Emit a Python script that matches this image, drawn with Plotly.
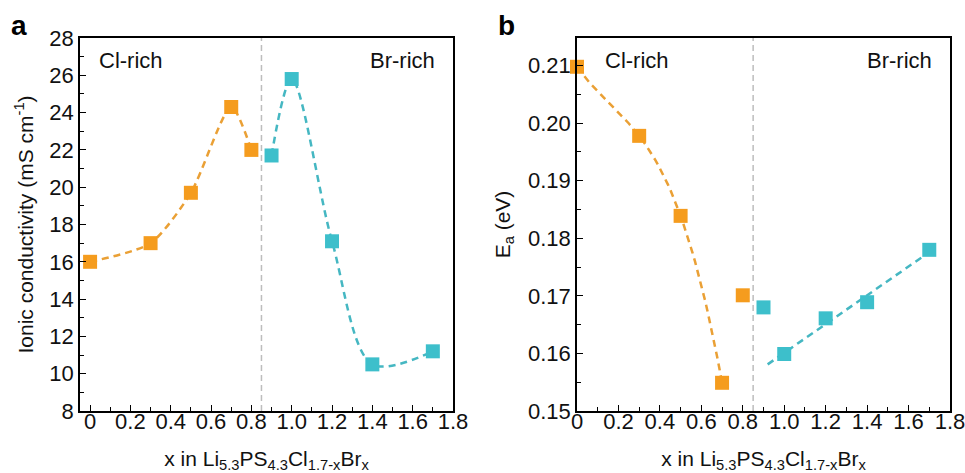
import numpy as np
import plotly.graph_objects as go

# ---------------- data ----------------
x_cl = [0.0, 0.3, 0.5, 0.7, 0.8]
sigma_cl = [16.0, 17.0, 19.7, 24.3, 22.0]
x_br = [0.9, 1.0, 1.2, 1.4, 1.7]
sigma_br = [21.7, 25.8, 17.1, 10.5, 11.2]

ea_cl = [0.2098, 0.1978, 0.1839, 0.1549, 0.1701]
ea_br = [0.1680, 0.1599, 0.1661, 0.1689, 0.1780]

# which points the dashed guide curves in panel b use
ea_cl_curve_n = 4            # first 4 Cl-rich points (smooth cubic through them)
ea_br_fit_from = 1           # Br-rich points from index 1 onward (linear fit)
ea_br_fit_range = [0.92, 1.7]

boundary_x = 0.85

x_ticks = [0, 0.2, 0.4, 0.6, 0.8, 1.0, 1.2, 1.4, 1.6, 1.8]
x_ticktext = ["0", "0.2", "0.4", "0.6", "0.8", "1.0", "1.2", "1.4", "1.6", "1.8"]
ya_ticks = [8, 10, 12, 14, 16, 18, 20, 22, 24, 26, 28]
yb_ticks = [0.15, 0.16, 0.17, 0.18, 0.19, 0.20, 0.21]
yb_ticktext = ["0.15", "0.16", "0.17", "0.18", "0.19", "0.20", "0.21"]

ORANGE = "#F59C1E"
ORANGE_LINE = "#EAA035"
CYAN = "#3DBFCB"
CYAN_LINE = "#45B7C2"
FONT = "Liberation Sans, Arial, sans-serif"
FS = 22
FT = 21

W, H = 965, 473

def px(v, total):
    return v / total

fig = go.Figure()

dash = "7px,5px"
msize = 14

# ---- panel a ----
fig.add_trace(go.Scatter(x=x_cl, y=sigma_cl, mode="lines", line=dict(color=ORANGE_LINE, width=2.5, dash=dash, shape="spline", smoothing=0.7),
                         xaxis="x", yaxis="y", showlegend=False, hoverinfo="skip"))
fig.add_trace(go.Scatter(x=x_br, y=sigma_br, mode="lines", line=dict(color=CYAN_LINE, width=2.5, dash=dash, shape="spline", smoothing=0.9),
                         xaxis="x", yaxis="y", showlegend=False, hoverinfo="skip"))
fig.add_trace(go.Scatter(x=x_cl, y=sigma_cl, mode="markers", marker=dict(symbol="square", size=msize, color=ORANGE),
                         xaxis="x", yaxis="y", showlegend=False, cliponaxis=False))
fig.add_trace(go.Scatter(x=x_br, y=sigma_br, mode="markers", marker=dict(symbol="square", size=msize, color=CYAN),
                         xaxis="x", yaxis="y", showlegend=False, cliponaxis=False))

# ---- panel b ----
cx = np.array(x_cl[:ea_cl_curve_n])
coef = np.polyfit(cx, ea_cl[:ea_cl_curve_n], 3)
cxx = np.linspace(cx.min(), cx.max(), 60)
fig.add_trace(go.Scatter(x=cxx, y=np.polyval(coef, cxx), mode="lines",
                         line=dict(color=ORANGE_LINE, width=2.5, dash=dash),
                         xaxis="x2", yaxis="y2", showlegend=False, hoverinfo="skip"))
slope, icpt = np.polyfit(x_br[ea_br_fit_from:], ea_br[ea_br_fit_from:], 1)
fit_x = np.array(ea_br_fit_range)
fig.add_trace(go.Scatter(x=fit_x, y=slope * fit_x + icpt, mode="lines",
                         line=dict(color=CYAN_LINE, width=2.5, dash=dash),
                         xaxis="x2", yaxis="y2", showlegend=False, hoverinfo="skip"))
fig.add_trace(go.Scatter(x=x_cl, y=ea_cl, mode="markers", marker=dict(symbol="square", size=msize, color=ORANGE),
                         xaxis="x2", yaxis="y2", showlegend=False, cliponaxis=False))
fig.add_trace(go.Scatter(x=x_br, y=ea_br, mode="markers", marker=dict(symbol="square", size=msize, color=CYAN),
                         xaxis="x2", yaxis="y2", showlegend=False, cliponaxis=False))

# boundary lines
for xr, yr in (("x", "y domain"), ("x2", "y2 domain")):
    fig.add_shape(type="line", xref=xr, yref=yr, x0=boundary_x, x1=boundary_x, y0=0, y1=1,
                  line=dict(color="#BDBDBD", width=1.5, dash="6px,4px"), layer="below")

xa_dom = [px(80, W), px(453, W)]
xb_dom = [px(577, W), px(950, W)]
y_dom = [1 - px(411, H), 1 - px(38, H)]

axis_common = dict(showline=True, linecolor="black", linewidth=1.5, mirror=True,
                   ticks="inside", ticklen=6, tickwidth=1.3, tickcolor="black",
                   showgrid=False, zeroline=False,
                   tickfont=dict(family=FONT, size=FS, color="#111"),
                   ticklabeloverflow="allow",
                   automargin=False)

xtitle = "x in Li<sub>5.3</sub>PS<sub>4.3</sub>Cl<sub>1.7-x</sub>Br<sub>x</sub>"

fig.update_layout(
    width=W, height=H,
    margin=dict(l=0, r=0, t=0, b=0),
    paper_bgcolor="white", plot_bgcolor="white",
    font=dict(family=FONT, size=FS, color="#111"),
    xaxis=dict(domain=xa_dom, range=[-0.05, 1.8], tickvals=x_ticks, ticktext=x_ticktext, anchor="y",
               ticklabelstandoff=-10,
               minor=dict(dtick=0.1, tick0=0, ticks="inside", ticklen=4, tickcolor="black"),
               title=dict(text=xtitle, font=dict(family=FONT, size=FT), standoff=18), **axis_common),
    yaxis=dict(domain=y_dom, range=[8, 28], tickvals=ya_ticks, anchor="x",
               minor=dict(dtick=1, tick0=8, ticks="inside", ticklen=4, tickcolor="black"),
               title=dict(text="Ionic conductivity (mS cm<sup>-1</sup>)", font=dict(family=FONT, size=FT), standoff=10),
               **axis_common),
    xaxis2=dict(domain=xb_dom, range=[0, 1.8], tickvals=x_ticks, ticktext=x_ticktext, anchor="y2",
                ticklabelstandoff=-10,
                minor=dict(dtick=0.1, tick0=0, ticks="inside", ticklen=4, tickcolor="black"),
                title=dict(text=xtitle, font=dict(family=FONT, size=FT), standoff=18), **axis_common),
    yaxis2=dict(domain=y_dom, range=[0.15, 0.2148], tickvals=yb_ticks, ticktext=yb_ticktext, anchor="x2",
                minor=dict(dtick=0.005, tick0=0.15, ticks="inside", ticklen=4, tickcolor="black"),
                title=dict(text="E<sub>a</sub> (eV)", font=dict(family=FONT, size=FT), standoff=12),
                **axis_common),
)

ann = [
    dict(text="Cl-rich", xref="x domain", yref="y domain", x=0.046, y=0.94, xanchor="left", yanchor="middle"),
    dict(text="Br-rich", xref="x domain", yref="y domain", x=0.957, y=0.94, xanchor="right", yanchor="middle"),
    dict(text="Cl-rich", xref="x2 domain", yref="y2 domain", x=0.07, y=0.94, xanchor="left", yanchor="middle"),
    dict(text="Br-rich", xref="x2 domain", yref="y2 domain", x=0.957, y=0.94, xanchor="right", yanchor="middle"),
]
for a in ann:
    fig.add_annotation(showarrow=False, font=dict(family=FONT, size=FS, color="#111"), **a)

fig.add_annotation(text="<b>a</b>", xref="paper", yref="paper", x=px(19, W), y=1 - px(25, H),
                   showarrow=False, font=dict(family=FONT, size=28, color="black"), xanchor="center", yanchor="middle")
fig.add_annotation(text="<b>b</b>", xref="paper", yref="paper", x=px(506, W), y=1 - px(25, H),
                   showarrow=False, font=dict(family=FONT, size=28, color="black"), xanchor="center", yanchor="middle")

fig.write_html("out.html", config={"displayModeBar": False},
               post_script="document.body.style.margin='0';document.body.style.overflow='hidden';")
